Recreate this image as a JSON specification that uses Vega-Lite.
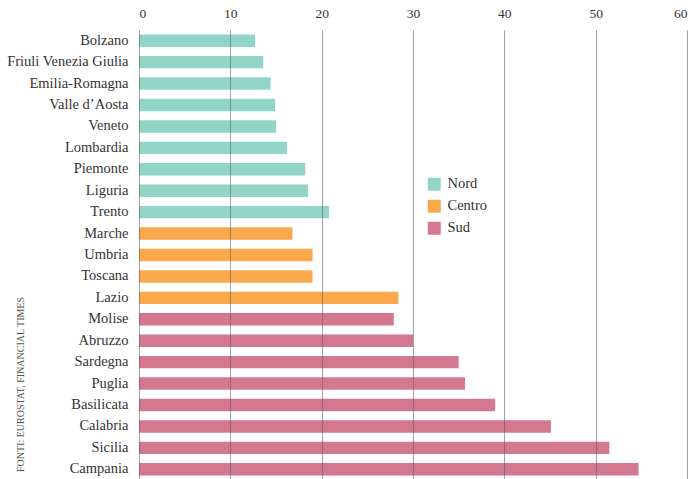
{
  "$schema": "https://vega.github.io/schema/vega-lite/v6.json",
  "width": 548,
  "height": 450,
  "autosize": "none",
  "padding": {"left": 139, "top": 30, "right": 7, "bottom": 0},
  "background": "white",
  "config": {"view": {"stroke": null}, "font": "Liberation Serif"},
  "data": {"values": [
    {"regione": "Bolzano", "area": "Nord", "valore": 12.7},
    {"regione": "Friuli Venezia Giulia", "area": "Nord", "valore": 13.6},
    {"regione": "Emilia-Romagna", "area": "Nord", "valore": 14.4},
    {"regione": "Valle d’Aosta", "area": "Nord", "valore": 14.9},
    {"regione": "Veneto", "area": "Nord", "valore": 15.0},
    {"regione": "Lombardia", "area": "Nord", "valore": 16.2},
    {"regione": "Piemonte", "area": "Nord", "valore": 18.2},
    {"regione": "Liguria", "area": "Nord", "valore": 18.5},
    {"regione": "Trento", "area": "Nord", "valore": 20.8},
    {"regione": "Marche", "area": "Centro", "valore": 16.8},
    {"regione": "Umbria", "area": "Centro", "valore": 19.0},
    {"regione": "Toscana", "area": "Centro", "valore": 19.0},
    {"regione": "Lazio", "area": "Centro", "valore": 28.4},
    {"regione": "Molise", "area": "Sud", "valore": 27.9},
    {"regione": "Abruzzo", "area": "Sud", "valore": 30.0},
    {"regione": "Sardegna", "area": "Sud", "valore": 35.0},
    {"regione": "Puglia", "area": "Sud", "valore": 35.7},
    {"regione": "Basilicata", "area": "Sud", "valore": 39.0},
    {"regione": "Calabria", "area": "Sud", "valore": 45.1},
    {"regione": "Sicilia", "area": "Sud", "valore": 51.5},
    {"regione": "Campania", "area": "Sud", "valore": 54.7}
  ]},
  "mark": {"type": "bar"},
  "encoding": {
    "y": {
      "field": "regione", "type": "nominal", "sort": null,
      "scale": {"paddingInner": 0.42, "paddingOuter": 0.21},
      "axis": {
        "title": "FONTI: EUROSTAT, FINANCIAL TIMES",
        "titleFont": "Liberation Serif", "titleFontSize": 10, "titleFontWeight": "normal",
        "titleColor": "#555", "titleAngle": -90, "titleX": -119, "titleY": 354,
        "titleAlign": "center", "titleBaseline": "middle",
        "domain": false, "ticks": false, "labelPadding": 11,
        "labelFontSize": 14.5, "labelFontWeight": "normal", "labelColor": "#333", "labelFont": "Liberation Serif"
      }
    },
    "x": {
      "field": "valore", "type": "quantitative",
      "scale": {"domain": [0, 60], "nice": false},
      "axis": {
        "orient": "top", "title": null, "values": [0, 10, 20, 30, 40, 50, 60],
        "domain": false, "ticks": false, "labelPadding": 10,
        "labelFontSize": 13.5, "labelFontWeight": "normal", "labelColor": "#333", "labelFont": "Liberation Serif",
        "grid": true, "gridColor": "#555", "gridOpacity": 0.55, "gridWidth": 1, "zindex": 1
      }
    },
    "color": {
      "field": "area", "type": "nominal",
      "scale": {"domain": ["Nord", "Centro", "Sud"], "range": ["#90d5c7", "#f9a84c", "#d4788f"]},
      "legend": {
        "title": null, "orient": "none", "legendX": 288, "legendY": 147,
        "symbolType": "square", "symbolSize": 169, "symbolStrokeWidth": 0, "symbolOpacity": 1,
        "labelFontSize": 14.5, "labelFontWeight": "normal", "labelColor": "#333", "labelFont": "Liberation Serif",
        "rowPadding": 7, "padding": 0, "labelOffset": 6
      }
    }
  }
}
